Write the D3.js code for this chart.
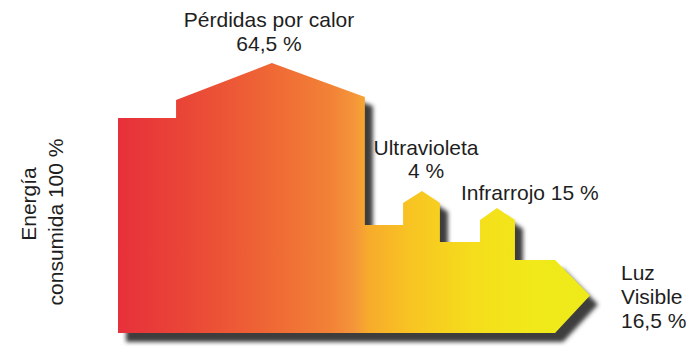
<!DOCTYPE html>
<html>
<head>
<meta charset="utf-8">
<script src="https://cdn.jsdelivr.net/npm/d3@7"></script>
<style>
  html, body { margin: 0; padding: 0; background: #ffffff; }
  svg { display: block; }
  text { font-family: "Liberation Sans", Arial, sans-serif; fill: #1e1e1e; }
</style>
</head>
<body>
<svg id="chart" width="696" height="351"></svg>
<script>
// Energy balance of an incandescent lamp (percent of consumed energy)
const stages = ["Energía consumida", "Pérdidas por calor", "Ultravioleta", "Infrarrojo", "Luz Visible"];
const shares = [100, 64.5, 4, 15, 16.5];
const shareLabels = ["100 %", "64,5 %", "4 %", "15 %", "16,5 %"];

// Energy still flowing after each loss
const remaining = [shares[0]];
for (let i = 1; i < shares.length - 1; i++) remaining.push(+(remaining[i - 1] - shares[i]).toFixed(1));
// remaining -> [100, 35.5, 31.5, 16.5]

const svg = d3.select("#chart");

// Horizontal progress of the flow (0 = source, 100 = arrow tip)
const x = d3.scaleLinear().domain([0, 100]).range([118, 590]);
// Band thickness for the energy that remains (schematic, not proportional)
const thick = d3.scaleLinear()
  .domain([16.5, 31.5, 35.5, 100])
  .range([73, 91, 108, 215]);
const base = 333;
const bandTop = v => base - thick(v);

// Flow progress where each stage begins / ends
const pos = {
  heatStart: 12.3, heatPeak: 32.6, heatEnd: 52.3,
  uvStart: 60.4, uvPeak: 64.4, uvEnd: 68.2,
  irStart: 76.7, irPeak: 80.3, irEnd: 84.1,
  arrowStart: 92.6, tip: 100
};

// Loss chimneys rise above the band they leave
const heatStep = 18, heatRoof = 55, heatRoofEnd = 21;
const uvRise = 39, uvRoof = 12, irRise = 40, irRoof = 12;

const y0 = bandTop(remaining[0]);  // full consumption
const y1 = bandTop(remaining[1]);  // after heat loss
const y2 = bandTop(remaining[2]);  // after ultraviolet
const y3 = bandTop(remaining[3]);  // after infrared (visible light)

const outline = [
  [x(0), base],
  [x(0), y0],
  [x(pos.heatStart), y0],
  [x(pos.heatStart), y0 - heatStep],
  [x(pos.heatPeak), y0 - heatRoof],
  [x(pos.heatEnd), y0 - heatRoofEnd],
  [x(pos.heatEnd), y1],
  [x(pos.uvStart), y1],
  [x(pos.uvStart), y2 - uvRise],
  [x(pos.uvPeak), y2 - uvRise - uvRoof],
  [x(pos.uvEnd), y2 - uvRise],
  [x(pos.uvEnd), y2],
  [x(pos.irStart), y2],
  [x(pos.irStart), y3 - irRise],
  [x(pos.irPeak), y3 - irRise - irRoof],
  [x(pos.irEnd), y3 - irRise],
  [x(pos.irEnd), y3],
  [x(pos.arrowStart), y3],
  [x(pos.tip), (y3 + base) / 2 - 1],
  [x(pos.arrowStart), base]
];
const flowPath = d3.line()(outline) + "Z";

const defs = svg.append("defs");

const grad = defs.append("linearGradient")
  .attr("id", "flowFill")
  .attr("gradientUnits", "userSpaceOnUse")
  .attr("x1", x(0)).attr("y1", 0)
  .attr("x2", x(100)).attr("y2", 0);
[
  [0.00, "#e7303b"],
  [0.15, "#ea4737"],
  [0.32, "#ef6735"],
  [0.45, "#f28236"],
  [0.50, "#f4953a"],
  [0.53, "#f7ab2c"],
  [0.62, "#f8c422"],
  [0.75, "#f5dd1c"],
  [0.88, "#f1e919"],
  [1.00, "#eeea1a"]
].forEach(([o, c]) => grad.append("stop").attr("offset", o).attr("stop-color", c));

defs.append("filter")
  .attr("id", "soften")
  .attr("x", "-5%").attr("y", "-5%")
  .attr("width", "110%").attr("height", "110%")
  .append("feGaussianBlur").attr("stdDeviation", 2.2);

// Drop shadow: the same outline, offset and blurred
svg.append("path")
  .attr("d", flowPath)
  .attr("transform", "translate(8,9)")
  .attr("fill", "#3c3c3c")
  .attr("filter", "url(#soften)");

svg.append("path")
  .attr("d", flowPath)
  .attr("fill", "url(#flowFill)");

// Labels
const fs = 21;
function label(lines, px, py, anchor, lh) {
  const t = svg.append("text")
    .attr("x", px).attr("y", py)
    .attr("text-anchor", anchor)
    .style("font-size", fs + "px");
  lines.forEach((s, i) => t.append("tspan").attr("x", px).attr("dy", i === 0 ? 0 : lh).text(s));
  return t;
}

label([stages[1], shareLabels[1]], x(32.0), 27, "middle", 24);
label([stages[2], shareLabels[2]], 426, 155, "middle", 23);
label([stages[3] + " " + shareLabels[3]], 461, 200, "start", 23);
label(["Luz", "Visible", shareLabels[4]], 621, 280, "start", 24);

// Vertical label for the consumed energy
svg.append("text")
  .attr("transform", "translate(36,204) rotate(-90)")
  .attr("text-anchor", "middle")
  .style("font-size", fs + "px")
  .text("Energía");
svg.append("text")
  .attr("transform", "translate(63,222) rotate(-90)")
  .attr("text-anchor", "middle")
  .style("font-size", fs + "px")
  .text("consumida " + shareLabels[0]);
</script>
</body>
</html>
